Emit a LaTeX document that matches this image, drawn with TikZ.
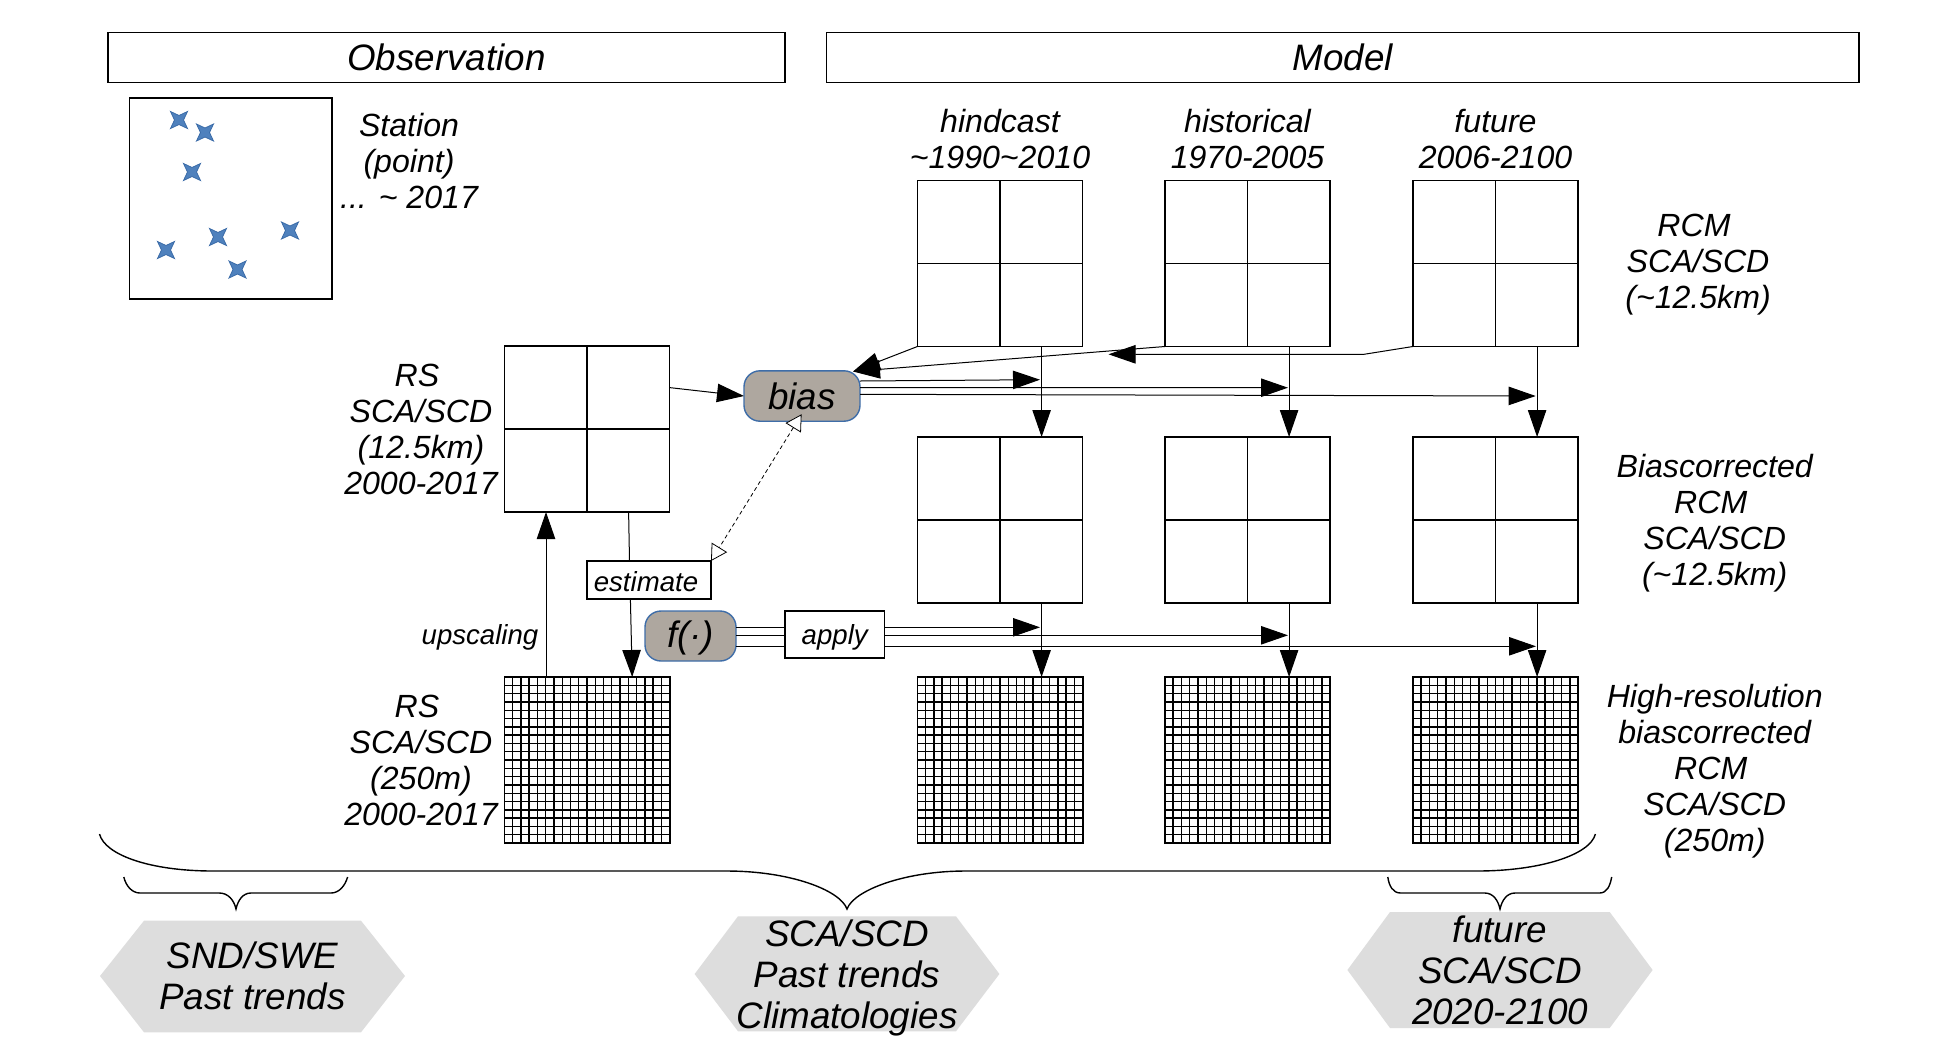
\documentclass[tikz,border=0pt]{standalone}
\usepackage{fontspec}
\setmainfont{Liberation Sans}
\usetikzlibrary{arrows.meta,calc}
\definecolor{nodefill}{HTML}{AEA79F}
\definecolor{nodeedge}{HTML}{3E6DA8}
\definecolor{hexfill}{HTML}{DDDDDD}
\definecolor{starfill}{HTML}{4F81BD}
\definecolor{staredge}{HTML}{3A6BA8}
\tikzset{
  boxed/.style={draw=black,line width=0.75pt,fill=white,inner sep=0pt,outer sep=0pt},
  cellbox/.style={boxed,minimum width=82.6pt,minimum height=83pt},
  txt/.style={font=\fontsize{16.05}{18}\selectfont\itshape,align=center,inner sep=0pt},
  txtbig/.style={font=\fontsize{18.4}{20.5}\selectfont\itshape,align=center,inner sep=0pt},
  txtsmall/.style={font=\fontsize{13.8}{16}\selectfont\itshape,align=center,inner sep=0pt},
  procnode/.style={draw=nodeedge,line width=0.7pt,fill=nodefill,rounded corners=8pt,inner sep=0pt,outer sep=0pt,font=\fontsize{18.4}{20}\selectfont\itshape},
  conn/.style={line width=0.5pt,draw=black},
  arr/.style={conn,-{Triangle[length=13.5pt,width=9.2pt]}},
  openarr/.style={line width=0.4pt,dash pattern=on 2pt off 1.5pt,{Triangle[open,length=8pt,width=9pt,fill=white]}-{Triangle[open,length=8pt,width=9pt,fill=white]}},
  bracket/.style={line width=0.7pt,draw=black},
  hexshape/.style={fill=hexfill,draw=none},
  starshape/.style={fill=starfill,draw=staredge,line width=0.4pt}
}
\newcommand{\coarsegrid}[3]{%
  \node[cellbox] (#1) at (#2,#3) {};
  \draw[line width=0.85pt] (#1.north) -- (#1.south) (#1.west) -- (#1.east);
}
\newcommand{\finegrid}[3]{%
  \node[cellbox,line width=0.9pt] (#1) at (#2,#3) {};
  \foreach \k in {1,...,19} {
    \draw[line width=0.7pt] ($(#1.north west)!\k/20!(#1.north east)$) -- ($(#1.south west)!\k/20!(#1.south east)$);
    \draw[line width=0.7pt] ($(#1.north west)!\k/20!(#1.south west)$) -- ($(#1.north east)!\k/20!(#1.south east)$);
  }
}
\begin{document}
\begin{tikzpicture}[x=0.5pt,y=-0.5pt]
\fill[white] (0,0) rectangle (1942,1055);
\useasboundingbox (0,0) rectangle (1942,1055);

% headers
\node[boxed,minimum width=338.6pt,minimum height=25pt,txtbig] (obs) at (446.5,57.5) {Observation};
\node[boxed,minimum width=516.2pt,minimum height=25pt,txtbig] (model) at (1342.8,57.5) {Model};

% station panel
\node[boxed,minimum width=101.2pt,minimum height=100.5pt] (station) at (230.7,198.5) {};
\foreach \sx/\sy in {179/120,205/132.5,192/172,290/230.5,218/237,166/250,237.5/269.5} {
  \path[starshape,shift={(\sx,\sy)}] (-8.5,-8.5) -- (0,-4.5) -- (8.5,-8.5) -- (4.5,0) -- (8.5,8.5) -- (0,4.5) -- (-8.5,8.5) -- (-4.5,0) -- cycle;
}
\node[txt] (stationlbl) at (409,161.5) {Station\\(point)\\... \textasciitilde{} 2017};

% grids
\coarsegrid{rsc}{587}{429}
\finegrid{rsf}{587}{760}
\coarsegrid{a1}{1000}{263.5}
\coarsegrid{b1}{1247.5}{263.5}
\coarsegrid{c1}{1495.5}{263.5}
\coarsegrid{a2}{1000}{520}
\coarsegrid{b2}{1247.5}{520}
\coarsegrid{c2}{1495.5}{520}
\finegrid{a3}{1000}{760}
\finegrid{b3}{1247.5}{760}
\finegrid{c3}{1495.5}{760}

% labels
\node[txt] (hind) at (1000,139.5) {hindcast\\\textasciitilde1990\textasciitilde2010};
\node[txt] (hist) at (1247.5,139.5) {historical\\1970-2005};
\node[txt] (fut) at (1495.5,139.5) {future\\2006-2100};
\node[txt] (l1) at (1698,264.5) {RCM\kern4pt\\SCA/SCD\\(\textasciitilde12.5km)};
\node[txt] (l2) at (1714.7,523.5) {Biascorrected\\RCM\kern4pt\\SCA/SCD\\(\textasciitilde12.5km)};
\node[txt] (l3) at (1714.7,771) {High-resolution\\biascorrected\\RCM\kern4pt\\SCA/SCD\\(250m)};
\node[txt] (l4) at (421,429.5) {RS\kern4pt\\SCA/SCD\\(12.5km)\\2000-2017};
\node[txt] (l5) at (421,760) {RS\kern4pt\\SCA/SCD\\(250m)\\2000-2017};
\node[txtsmall] (ups) at (480,637.5) {upscaling};

% free ends of connectors
\coordinate (biasin) at (853,371.5);
\coordinate (futbend) at (1364,354.3);
\coordinate (futtip) at (1108.5,354.3);
\coordinate (t1) at (1040,379.7);
\coordinate (t2) at (1288,387.7);
\coordinate (t3) at (1535.7,396);
\coordinate (u1) at (1040,627.3);
\coordinate (u2) at (1288,635.3);
\coordinate (u3) at (1536,646.3);

% process nodes
\node[procnode,minimum width=58pt,minimum height=25.2pt] (bias) at (802,396) {bias};
\node[procnode,minimum width=45.5pt,minimum height=25pt] (fn) at (690.5,636) {\rule{0pt}{15.6pt}f(·)};

% vertical connectors
\foreach \c in {a,b,c} {
  \draw[arr] ([xshift=20.8pt]\c1.south) -- ([xshift=20.8pt]\c2.north);
  \draw[arr] ([xshift=20.8pt]\c2.south) -- ([xshift=20.8pt]\c3.north);
}

% inputs to bias
\draw[arr] ([yshift=-20.8pt]rsc.north east) -- (bias.west);
\draw[arr] (a1.south west) -- (biasin);
\draw[arr] (b1.south west) -- (biasin);
\draw[arr] (c1.south west) -- (futbend) -- (futtip);

% outputs of bias
\draw[arr] ([yshift=7.5pt]bias.east) -- (t1);
\draw[arr] ([yshift=4.15pt]bias.east) -- (t2);
\draw[arr] ([yshift=0.85pt]bias.east) -- (t3);

% estimate and apply
\node[boxed,minimum width=62pt,minimum height=19pt,txtsmall] (est) at (649,580) {\kern-3pt\rule{0pt}{11.2pt}estimate};
\draw[conn] ([xshift=-20.5pt]rsc.south east) -- ([xshift=-9.75pt]est.north);
\draw[arr] ([xshift=-9.3pt]est.south) -- ([xshift=22.6pt]rsf.north);
\draw[arr] ([xshift=-20.5pt]rsf.north) -- ([xshift=-20.5pt]rsc.south);
\draw[openarr] (bias.south) ++(-0.4,-7) -- (est.north east);

\draw[arr] ([yshift=4.35pt]fn.east) -- (u1);
\draw[arr] ([yshift=0.35pt]fn.east) -- (u2);
\draw[arr] ([yshift=-5.15pt]fn.east) -- (u3);
\node[boxed,minimum width=49.7pt,minimum height=23.6pt,txtsmall] (apply) at (834.7,634.5) {\rule{0pt}{12.5pt}apply};

% braces
\draw[bracket] (99.5,834) .. controls (105,855) and (150,871) .. (213,871) -- (726.5,871) .. controls (790,871) and (840,890) .. (847,909) .. controls (854,890) and (905,871) .. (965.6,871) -- (1477,871) .. controls (1540,871) and (1590,855) .. (1595.4,834);
\draw[bracket] (123.8,877) .. controls (126,886) and (132,893) .. (140,893) -- (219.4,893) .. controls (228,893) and (234,900) .. (236,909) .. controls (238,900) and (243,893) .. (251,893) -- (331,893) .. controls (339,893) and (345,886) .. (347.6,877);
\draw[bracket] (1387.8,877) .. controls (1389,886) and (1393,893) .. (1400.5,893) -- (1484.7,893) .. controls (1493,893) and (1498,900) .. (1500,909) .. controls (1502,900) and (1507,893) .. (1515,893) -- (1599.5,893) .. controls (1607,893) and (1610,886) .. (1611.7,877);

% hexagons
\path[hexshape] (100,976) -- (144,920.7) -- (361,920.7) -- (405,976) -- (361,1032.3) -- (144,1032.3) -- cycle;
\path[hexshape] (694.6,974) -- (738,916.3) -- (956,916.3) -- (999.4,974) -- (956,1031.3) -- (738,1031.3) -- cycle;
\path[hexshape] (1347.4,970) -- (1390,912) -- (1609.7,912) -- (1652.6,970) -- (1609.7,1028) -- (1390,1028) -- cycle;
\node[txtbig] (hexa) at (252.5,976) {SND/SWE\\Past trends};
\node[txtbig] (hexb) at (847,977.5) {SCA/SCD\\Past trends\\Climatologies};
\node[txtbig] (hexc) at (1500,970) {future\\SCA/SCD\\2020-2100};
\end{tikzpicture}
\end{document}
